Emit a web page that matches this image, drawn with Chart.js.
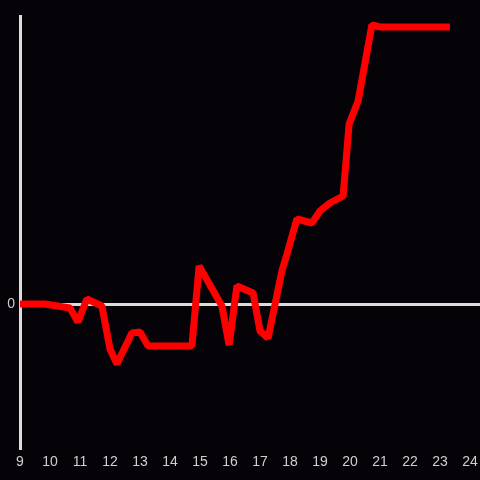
<!DOCTYPE html>
<html>
<head>
<meta charset="utf-8">
<script src="https://cdn.jsdelivr.net/npm/chart.js@4/dist/chart.umd.min.js"></script>
<style>
  html, body { margin: 0; padding: 0; background: #050308; }
  canvas { display: block; background: #050308; }
</style>
</head>
<body>
<canvas id="chart" width="480" height="480"></canvas>
<script>
// hour of day for each reading
const hours = [9.0, 9.83, 10.67, 10.93, 11.23, 11.73, 12.0, 12.23, 12.73, 13.0,
  13.27, 14.73, 14.97, 15.73, 15.97, 16.23, 16.77, 17.0, 17.27, 17.73,
  17.9, 18.23, 18.73, 19.0, 19.33, 19.77, 19.97, 20.27, 20.73, 21.0, 23.33];
// value relative to zero line
const values = [0, 0, -4, -18, 5, -2, -45, -60, -29, -28,
  -42, -42, 38, -2, -41, 18, 11, -27, -34, 33,
  50, 85, 81, 93, 101, 108, 180, 203, 279, 277, 277];
const xTicks = [9, 10, 11, 12, 13, 14, 15, 16, 17, 18, 19, 20, 21, 22, 23, 24];
const yTicks = [0];

const axisColor = '#dcdcdc';
const labelColor = '#cfcfcf';

const points = hours.map((h, i) => ({ x: h, y: values[i] }));

new Chart(document.getElementById('chart').getContext('2d'), {
  type: 'line',
  data: {
    datasets: [{
      data: points,
      borderColor: '#ff0000',
      borderWidth: 7,
      borderJoinStyle: 'bevel',
      pointRadius: 0,
      tension: 0,
      fill: false,
    }],
  },
  options: {
    responsive: false,
    animation: false,
    layout: { padding: { top: 16, left: 0, right: 0, bottom: 0 } },
    plugins: { legend: { display: false }, tooltip: { enabled: false } },
    scales: {
      x: {
        type: 'linear',
        min: 9,
        max: 24.333,
        afterBuildTicks: (scale) => {
          scale.ticks = xTicks.map((v) => ({ value: v }));
        },
        afterFit: (scale) => {
          scale.height = 32;
          scale.paddingLeft = 0;
          scale.paddingRight = 0;
        },
        grid: { display: false, drawTicks: false },
        border: { display: false },
        ticks: {
          color: labelColor,
          font: { size: 14 },
          padding: 6,
          maxRotation: 0,
          autoSkip: false,
        },
      },
      y: {
        min: -144,
        max: 288,
        afterBuildTicks: (scale) => {
          scale.ticks = yTicks.map((v) => ({ value: v }));
        },
        afterFit: (scale) => { scale.width = 20; },
        grid: {
          drawTicks: false,
          color: axisColor,
          lineWidth: 3,
        },
        border: { display: true, color: axisColor, width: 3 },
        ticks: {
          color: labelColor,
          font: { size: 14 },
          padding: 5,
        },
      },
    },
  },
});
</script>
</body>
</html>
